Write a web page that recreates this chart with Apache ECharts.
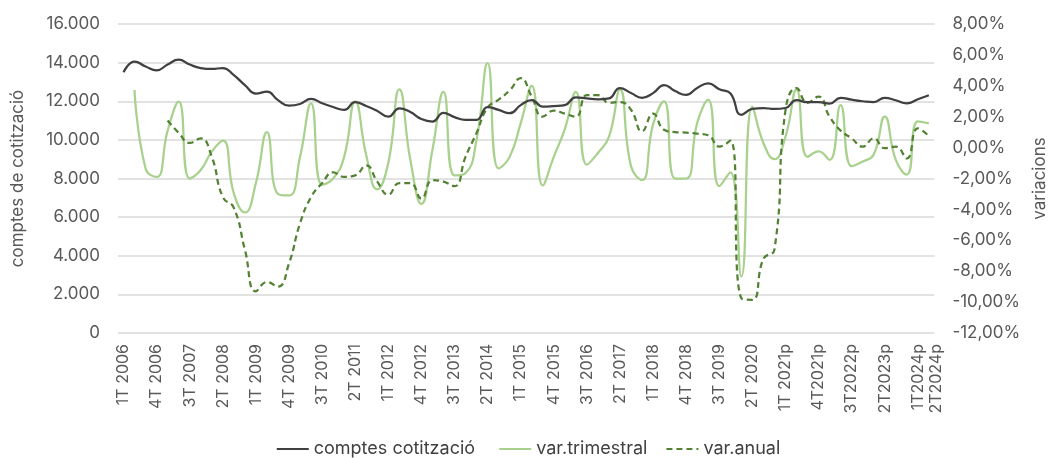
<!DOCTYPE html>
<html>
<head>
<meta charset="utf-8">
<script src="https://cdn.jsdelivr.net/npm/echarts@6/dist/echarts.min.js"></script>
<style>
  html, body { margin: 0; padding: 0; background: #fff; }
  #chart { width: 1056px; height: 458px; }
</style>
</head>
<body>
<div id="chart"></div>
<script>
const categories = [
  "1T 2006", "2T 2006", "3T 2006", "4T 2006",
  "1T 2007", "2T 2007", "3T 2007", "4T 2007",
  "1T 2008", "2T 2008", "3T 2008", "4T 2008",
  "1T 2009", "2T 2009", "3T 2009", "4T 2009",
  "1T 2010", "2T 2010", "3T 2010", "4T 2010",
  "1T 2011", "2T 2011", "3T 2011", "4T 2011",
  "1T 2012", "2T 2012", "3T 2012", "4T 2012",
  "1T 2013", "2T 2013", "3T 2013", "4T 2013",
  "1T 2014", "2T 2014", "3T 2014", "4T 2014",
  "1T 2015", "2T 2015", "3T 2015", "4T 2015",
  "1T 2016", "2T 2016", "3T 2016", "4T 2016",
  "1T 2017", "2T 2017", "3T 2017", "4T 2017",
  "1T 2018", "2T 2018", "3T 2018", "4T 2018",
  "1T 2019", "2T 2019", "3T 2019", "4T 2019",
  "1T 2020", "2T 2020", "3T 2020", "4T 2020",
  "1T 2021p", "2T2021p", "3T2021p", "4T2021p",
  "1T2022p", "2T2022p", "3T2022p", "4T2022p",
  "1T2023p", "2T2023p", "3T2023p", "4T2023p",
  "1T2024p", "2T2024p"
];

// comptes de cotització (eix esquerre)
const comptes = [
  13500, 14050, 13800, 13600, 13900, 14150, 13900, 13720,
  13670, 13720, 13350, 12840, 12400, 12500, 12060, 11770,
  11860, 12120, 11900, 11700, 11550, 11950, 11750, 11500,
  11200, 11630, 11440, 11080, 10950, 11400, 11180, 11030,
  11030, 11700, 11550, 11380, 11800, 12060, 11720, 11750,
  11800, 12200, 12150, 12100, 12150, 12680, 12430, 12180,
  12420, 12840, 12530, 12330, 12690, 12930, 12620, 12410,
  11300, 11600, 11650, 11600, 11650, 12060, 11950, 11950,
  11880, 12180, 12080, 12000, 11950, 12180, 12050, 11890,
  12100, 12310
];

// variació trimestral (%)
const varTrimestral = [
  null, 3.73, -1.35, -1.9, 1.1, 2.97, -2.0, -1.45,
  -0.26, 0.45, -2.96, -4.2, -2.3, 1.0, -3.0, -3.1,
  -0.6, 2.87, -2.4, -2.0, -0.6, 3.0, -0.5, -2.7,
  -1.0, 3.77, -0.8, -3.65, -0.15, 3.6, -1.8, -1.65,
  0.5, 5.46, -1.35, -0.6, 1.57, 4.0, -2.45, -0.6,
  1.2, 3.6, -1.1, -0.35, 0.7, 3.75, -1.2, -2.1,
  1.5, 3.0, -2.0, -2.0, 1.6, 3.1, -2.5, -1.6,
  -8.35, 2.65, 0.3, -0.75, 0.7, 3.75, -0.6, -0.25,
  -0.8, 2.75, -1.2, -0.9, -0.45, 2.0, -0.8, -1.75,
  1.7, 1.57
];

// variació anual (%)
const varAnual = [
  null, null, null, null, 1.75, 0.95, 0.3, 0.6,
  -0.6, -3.2, -3.9, -6.6, -9.3, -8.7, -9.0, -7.5,
  -4.9, -3.2, -2.3, -1.6, -1.9, -1.8, -1.15, -2.2,
  -3.05, -2.3, -2.3, -3.3, -2.1, -2.2, -2.5, -0.6,
  0.95, 2.6, 3.1, 3.7, 4.5, 3.3, 2.0, 2.4,
  2.2, 2.0, 3.4, 3.4, 2.9, 2.95, 2.45, 1.05,
  2.2, 1.15, 1.0, 0.97, 0.9, 0.8, 0.06, 0.45,
  -9.75, -9.85, -7.2, -6.6, 2.4, 3.85, 2.9, 3.3,
  2.0, 1.1, 0.6, 0.06, 0.6, -0.04, 0.06, -0.7,
  1.25, 0.75
];

const FONT = "Inter";
const TEXT = "#595959";

const chart = echarts.init(document.getElementById("chart"));

const lastIdx = comptes.length - 1;
const comptesData = comptes.map((v, i) => {
  if (i !== lastIdx) return v;
  return {
    value: v,
    label: {
      show: true,
      position: "top",
      offset: [-19, -7],
      color: "#404040",
      fontSize: 17,
      fontFamily: FONT,
      formatter: (p) => p.value.toLocaleString("de-DE"),
    },
  };
});

// same settings for both category axes; the second one only carries the last label
// so ECharts doesn't drop one of the two overlapping labels at the end
function catAxis(intervalFn, fmt) {
  return {
    type: "category",
    data: categories,
    boundaryGap: true,
    position: "bottom",
    axisLine: { show: false },
    axisTick: { show: false },
    splitLine: { show: false },
    axisLabel: {
      rotate: 90,
      color: TEXT,
      fontSize: 16,
      lineHeight: 15,
      fontFamily: FONT,
      margin: 11,
      interval: intervalFn,
      formatter: fmt,
    },
  };
}

// trailing spaces so the legend items sit where the original has them
const legendPad = { "comptes cotització": 2, "var.trimestral": 1, "var.anual": 0 };

const option = {
  animation: false,
  textStyle: { fontFamily: FONT },
  grid: { left: 118, right: 118, top: 24, bottom: 125 },
  legend: {
    top: 435,
    left: "center",
    itemWidth: 32,
    itemHeight: 14,
    itemGap: 13,
    itemStyle: { opacity: 0 },
    textStyle: { color: "#404040", fontSize: 18, fontFamily: FONT },
    formatter: (name) => name + "\u00a0".repeat(legendPad[name]),
    data: ["comptes cotització", "var.trimestral", "var.anual"],
  },
  xAxis: [
    catAxis((index) => index % 3 === 0, (v) => v),
    // empty first line pushes the last label a little to the right, as in the original
    catAxis((index) => index === lastIdx, (v) => "\n" + v),
  ],
  yAxis: [
    {
      type: "value",
      min: 0,
      max: 16000,
      interval: 2000,
      name: "comptes de cotització",
      nameLocation: "middle",
      nameRotate: 90,
      nameGap: 92,
      nameTextStyle: { color: TEXT, fontSize: 17, fontFamily: FONT },
      axisLine: { show: false },
      axisTick: { show: false },
      axisLabel: {
        color: TEXT,
        fontSize: 17,
        fontFamily: FONT,
        margin: 18,
        formatter: (v) => v.toLocaleString("de-DE"),
      },
      splitLine: { lineStyle: { color: "#d9d9d9", width: 1.5 } },
    },
    {
      type: "value",
      min: -12,
      max: 8,
      interval: 2,
      name: "variacions",
      nameLocation: "middle",
      nameRotate: 90,
      nameGap: 94,
      nameTextStyle: { color: TEXT, fontSize: 17, fontFamily: FONT },
      axisLine: { show: false },
      axisTick: { show: false },
      axisLabel: {
        color: TEXT,
        fontSize: 17,
        fontFamily: FONT,
        margin: 18,
        formatter: (v) => v.toFixed(2).replace(".", ",") + "%",
      },
      splitLine: { show: false },
    },
  ],
  series: [
    {
      name: "var.trimestral",
      type: "line",
      yAxisIndex: 1,
      data: varTrimestral,
      smooth: true,
      symbol: "none",
      lineStyle: { color: "#a9d18e", width: 2.25 },
      itemStyle: { color: "#a9d18e" },
    },
    {
      name: "var.anual",
      type: "line",
      yAxisIndex: 1,
      data: varAnual,
      smooth: true,
      symbol: "none",
      lineStyle: { color: "#548235", width: 2.25, type: [6, 4] },
      itemStyle: { color: "#548235" },
    },
    {
      name: "comptes cotització",
      type: "line",
      yAxisIndex: 0,
      data: comptesData,
      smooth: true,
      symbol: "none",
      lineStyle: { color: "#404040", width: 2.25 },
      itemStyle: { color: "#404040" },
    },
  ],
};

chart.setOption(option);
</script>
</body>
</html>
